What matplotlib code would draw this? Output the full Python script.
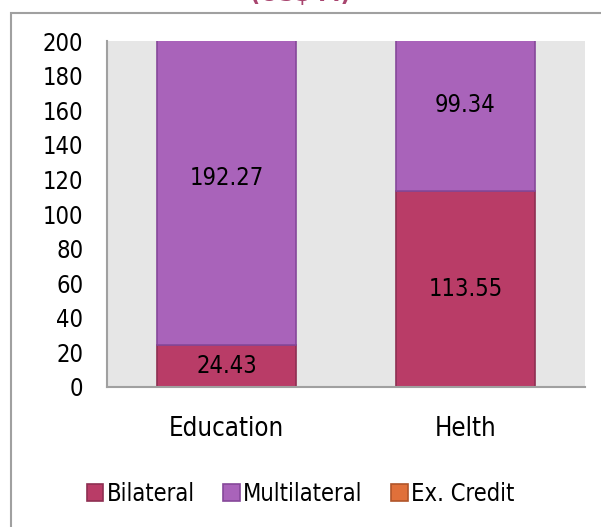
import matplotlib
matplotlib.use("Agg")
import matplotlib.pyplot as plt
from matplotlib.patches import Rectangle

categories = ["Education", "Helth"]
bilateral = [24.43, 113.55]
multilateral = [192.27, 99.34]
ex_credit = [0, 0]

col_bi = "#b93c67"
col_multi = "#a963ba"
col_ex = "#e0703a"

plt.rcParams['font.family'] = ['DejaVu Sans']
plt.rcParams['font.stretch'] = 'condensed'

fs = 17

fig = plt.figure(figsize=(6.01, 5.27), dpi=100)
ax = fig.add_axes([107 / 601, 1 - 387 / 527, 478 / 601, 346 / 527])
ax.set_facecolor("#e6e6e6")

x = range(len(categories))
w = 0.58
b1 = ax.bar(x, bilateral, w, color=col_bi, edgecolor="#8e2f52", linewidth=1.2, label="Bilateral")
b2 = ax.bar(x, multilateral, w, bottom=bilateral, color=col_multi, edgecolor="#86489a",
            linewidth=1.2, label="Multilateral")
b3 = ax.bar(x, ex_credit, w, bottom=[a + b for a, b in zip(bilateral, multilateral)],
            color=col_ex, edgecolor="#b0552a", linewidth=1.2, label="Ex. Credit")

for i in x:
    ax.text(i, bilateral[i] / 2, f"{bilateral[i]:.2f}", ha="center", va="center", fontsize=fs)
    ax.text(i, bilateral[i] + multilateral[i] / 2, f"{multilateral[i]:.2f}",
            ha="center", va="center", fontsize=fs)

ax.set_xlim(-0.5, 1.5)
ax.set_ylim(0, 200)
ax.set_yticks(range(0, 201, 20))
ax.set_xticks(list(x))
ax.set_xticklabels(categories)
ax.tick_params(axis="both", length=0, labelsize=fs)
ax.tick_params(axis="x", pad=21, labelsize=18.5)
ax.tick_params(axis="y", pad=17)
for s in ["top", "right"]:
    ax.spines[s].set_visible(False)
ax.spines["left"].set_color("#a0a0a0")
ax.spines["bottom"].set_color("#a0a0a0")
ax.spines["left"].set_linewidth(1.5)
ax.spines["bottom"].set_linewidth(1.5)

fig.legend(handles=[b1, b2, b3], loc="center", bbox_to_anchor=(0.5, 1 - 494 / 527), ncol=3,
           frameon=False, fontsize=fs, handlelength=0.7, handleheight=0.7,
           handletextpad=0.15, columnspacing=1.2)

fig.patches.append(Rectangle((11 / 601, -0.1), 1.2, (527 - 13) / 527 + 0.1,
                             transform=fig.transFigure, fill=False,
                             edgecolor="#a0a0a0", linewidth=1.5, zorder=0))

fig.text(0.5, 1 - 6 / 527, "(US$ M)", ha="center", va="bottom", fontsize=18,
         fontweight="bold", color="#a8456f")

fig.savefig("out.png", dpi=100)
